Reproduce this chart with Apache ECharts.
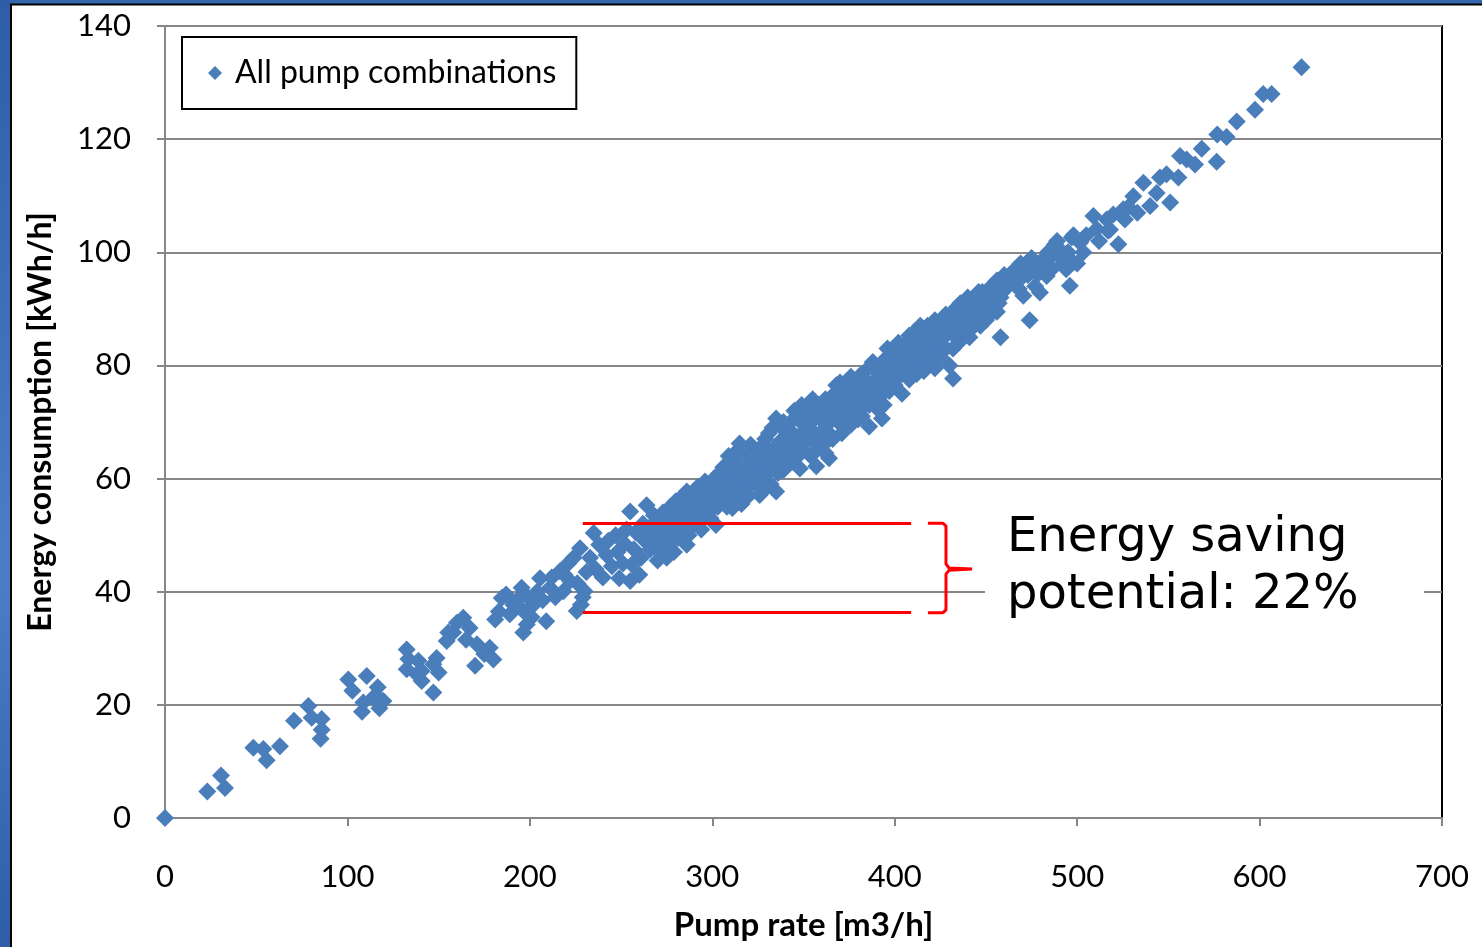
<!DOCTYPE html>
<html><head><meta charset="utf-8">
<script src="https://cdn.jsdelivr.net/npm/echarts@6/dist/echarts.min.js"></script>
<style>html,body{margin:0;padding:0;background:#fff;}#c{width:1482px;height:947px;}</style>
</head><body><div id="c"></div>
<script>
// ---- data ----
const seriesName = 'All pump combinations';
const xTitle = 'Pump rate [m3/h]';
const yTitle = 'Energy consumption [kWh/h]';
const xTickValues = [0, 100, 200, 300, 400, 500, 600, 700];
const yTickValues = [0, 20, 40, 60, 80, 100, 120, 140];

const pointsLow = [[0,0],[23.2,4.7],[30.7,7.5],[32.9,5.3],[48.4,12.4],[53.9,12.2],[55.7,10.2],[63,12.7],[70.7,17.2],[78.6,19.8],[80.4,17.7],[85.9,17.5],[85.9,15.6],[85.3,14.0],[100.5,24.5],[102.7,22.5],[110.6,25.1],[108.7,20.4],[108,18.8],[116.6,23.1],[117.9,21.0],[119.7,20.7],[117.5,19.4],[114.2,21.3],[132.5,29.8],[133.4,28.1],[132.5,26.3],[138.9,27.8],[140.7,26.0],[140.7,24.2],[138,25.4],[148.9,28.3],[147.1,27.2],[150,25.7],[147.1,22.2],[155.3,32.8],[154.4,31.3]];

const pointsMid1 = [[163.5,35.4],[158,32.8],[167,33.6],[171,30.7],[170,26.9],[180,28],[178,30.1],[181,35.1],[184.6,38.9],[195.5,40.7],[191,37.7],[196.4,36.6],[198.3,34.2],[196.4,32.8],[202,37.7],[209,34.8],[205.6,42.4],[211,40.7],[218.4,40.1],[216.5,43.6],[222,41.9],[225.7,36.6],[228,37.7],[230,40.1],[227.5,47.7],[224,46],[160,34.5],[165,31.5],[175,29],[183,36.5],[187,39.5],[189,36],[193,38.5],[199,39],[201,35.5],[204,40],[207,38.5],[212,42.5],[214,39],[219,43],[221,45],[226,41.5],[231,43.5],[229,39]];

const pointsMid2 = [[233,46],[235,50.4],[236,44],[238,48.3],[240,42.5],[242,46.5],[243,49],[245,44.5],[247,50],[248,47],[249,42.4],[251,45],[252,48.5],[253,51],[255,41.9],[255,54.2],[256,44.8],[257,47.5],[258,50.5],[260,43],[261,46],[262,52],[263,49],[264,55.3],[266,47.5],[267,51.8],[268,53.5],[269,49.5],[270,45.5],[271,52.5],[272,50],[273,54],[275,46],[275,52],[276,48.9],[277,55],[278,51],[279,53],[280,56],[281,49.5],[282,52.5],[283,54.5],[284,57],[285,50.5],[286,48.3],[286,57.7],[287,53],[288,55.5],[289,51.5],[290,54],[291,56.5],[292,58.5],[293,52.5],[294,55],[295,57],[296,59.5],[297,58.3],[298,54],[299,56],[300,58],
  [265,50],[268,48],[272,47.5],[274,51],[277,49.5],[279,47],[281,54],[283,51],[285,55.5],[287,50],[289,57],[290,52],[292,55],[294,51],[296,54.5],[298,57.5],[299,53]];

const pointsMid3 = [[301,60],[302,51.8],[303,55],[304,57.5],[305,59.5],[306,62],[307,56],[308,58.5],[309,61],[310,63],[311,54.8],[312,57.5],[313,60],[314,62.5],[315,58.3],[315,66.2],[316,55.5],[317,59],[318,61.5],[319,64],[320,57],[321,60],[322,62.5],[323,65],[324,59],[325,61.5],[326,57.1],[327,63.5],[328,66],[329,60.5],[330,63],[331,68],[332,59],[333,65],[334,62],[335,57.7],[335,70.6],[336,64],[337,66.5],[338,69],[339,61.5],[340,63.5],[340.8,62.7],[341,67],[342,65],[343,70],[344,68],[345,72],[346,71.8],[346,66],[347,64],[348,61.8],[349,68],[350,70],[351,66.5],[352,72],[353,69],[354,64],[355,67.5],[356,70.5],[357,62.2],[358,73],[359,68],[360,71],[361,66],[362,74],[363,69.5],[364,63.6],[365,72],[366,67],[367,75],[368,76.5],[369,70],[370,73],[371,68],[372,75.5],[373,71],[374,77],[375,73.5],[376,69.5],[377,75],[378,72],[379,76.5],[380,74],[381,78.2],[382,71],[383,75.5],[384,73],[385,77],[386,69.2],[387,74],[388,80.6],[389,76],[390,72.5],
  [301,56],[303,58.5],[304,61],[306,58],[308,55],[309,64],[311,59.5],[313,57],[314,65],[316,61],[318,58],[320,62],[321,66],[323,60.5],[325,64],[327,60],[329,67],[330,58.5],[332,64.5],[333,69],[336,61],[338,65.5],[339,70],
  [342,68.5],[344,63],[345,66.5],[347,70.5],[349,73],[350,65],[352,68],[354,71],[355,74],[357,66],[359,72.5],[361,70],[362,64.5],[364,68],[366,73.5],[368,71],[370,77],[372,70],[374,74],[376,78],[378,74.5],[380,70.5],[382,77],[384,79],[386,73],[388,76.5],[390,79]];

const pointsMid4 = [[391,78],[392,74.5],[393,70.6],[394,77],[395,81.2],[396,79],[397,75.5],[398,78],[399,82],[400,76.5],[401,80],[402,78],[403,83],[404,75],[405,81],[406,79],[407,84],[408,85.3],[408,77.5],[409,82],[410,80],[411,86],[412,78.5],[413,83.5],[414,81],[415,85],[416,79],[416.6,81.2],[417,83],[418,87],[419,80.5],[420,84],[421,82],[422,79.5],[423,86.7],[424,84],[425,81.5],[426,88],[427,85],[428,83],[429,87],[430,80],[431,89],[432,77.7],[432,85.5],[433,88],[434,90.3],[435,84],[436,87],[437,89.5],[438,86],[439,91],[440,88],[441,85],[442,90],[443,87.5],[444,92],[445,91.7],[446,89],[447,87],[448,93],[449,90],[450,92],[451,88.5],[452,92.6],[453,94],[454,90],[455,92.3],[456,95],[457,91],[458,85],[459,93],[460,96],
  [392,80],[394,73],[396,83],[398,76],[400,80],[402,84],[404,78.5],[406,82.5],[409,79],[410,84],[412,82],[414,87],[416,84],[418,82],[420,86],[422,88],[424,82],[426,85],[428,89],[430,86],[432,83],[434,87],[436,91],[438,88.5],[440,92],[442,86.5],[444,89],[446,93],[448,90.5],[450,88],[452,91],[454,94],[456,89.5],[458,92],[460,94]];

const pointsHigh = [[461.3,94.1],[465,95.3],[470.5,95.8],[470.5,92.3],[476,97],[479.6,92.9],[481.5,98.8],[483.3,95.8],[487.9,101.4],[490.6,99.4],[496,94.1],[497,102.6],[497.9,98.2],[501.6,101.7],[503.4,100],[508.9,106.4],[510.7,104.1],[516.2,105.8],[516.9,103.8],[519.8,106.7],[522.6,101.4],[525.3,107.6],[526.2,105.8],[530.8,109.9],[536.3,112.3],[540,108.2],[543.6,110.5],[545.4,113.2],[549,113.8],[551,108.8],[555.5,113.2],[556.4,117],[560,116.4],[564.6,115.5],[568.3,118.3],[576.5,116],[576.8,120.8],[581.9,120.4],[587.5,123.1],[597.5,125.2],[602,128],[606.6,128],[623,132.7],[462,94],[466,97],[468,93.5],[472,98],[474,88],[478,96],[485,99],[492,100],[494,97],[500,98],[505,103],[512,102],[518,104],[528,108],[533,107],
  [463,96],[467,95],[469,98],[473,96],[475,99],[477,94],[480,97.5],[484,100],[486,97],[489,102],[492,98],[495,100],[498,103]];

// annotation (data units)
const savingLevels = [52.1, 36.3];
const savingSpan = [229, 409];
const braceX = [418.2, 426.5, 428.1, 428.1, 429.8, 442.4, 429.8, 428.1, 428.1, 426.5, 418.2];
const braceY = [52.1, 52.1, 51.6, 44.9, 44.2, 44.0, 43.8, 43.1, 36.8, 36.3, 36.3];
const annotationText = 'Energy saving\npotential: 22%';

const allPoints = [].concat(pointsLow, pointsMid1, pointsMid2, pointsMid3, pointsMid4, pointsHigh);

const chart = echarts.init(document.getElementById('c'), null, {renderer: 'canvas'});
const gray = '#868686';
const font = 'Lato, "Open Sans", sans-serif';
chart.setOption({
  animation: false,
  backgroundColor: '#fff',
  grid: {left: 165, right: 40, top: 26, bottom: 126, show: true, borderColor: '#000', borderWidth: 2, backgroundColor: '#fff'},
  legend: {
    left: 182, top: 37, orient: 'horizontal',
    data: [{name: seriesName, icon: 'diamond'}],
    itemWidth: 14, itemHeight: 14,
    borderColor: '#000', borderWidth: 2, backgroundColor: '#fff', borderRadius: 0,
    padding: [20, 20, 20, 26],
    textStyle: {fontSize: 32, color: '#000', fontFamily: font, padding: [0, 0, 0, 8]}
  },
  xAxis: {
    type: 'value', min: xTickValues[0], max: xTickValues[xTickValues.length - 1], interval: 100,
    axisLine: {show: true, lineStyle: {color: gray, width: 2}},
    axisTick: {show: true, inside: false, length: 8, lineStyle: {color: gray, width: 2}},
    axisLabel: {fontSize: 31, color: '#000', fontFamily: font, margin: 43},
    splitLine: {show: false},
    name: xTitle, nameLocation: 'middle', nameGap: 91,
    nameTextStyle: {fontSize: 33, fontWeight: 'bold', color: '#000', fontFamily: font}
  },
  yAxis: {
    type: 'value', min: yTickValues[0], max: yTickValues[yTickValues.length - 1], interval: 20,
    axisLine: {show: true, lineStyle: {color: gray, width: 2}},
    axisTick: {show: true, inside: false, length: 8, lineStyle: {color: gray, width: 2}},
    axisLabel: {fontSize: 31, color: '#000', fontFamily: font, margin: 34},
    splitLine: {show: true, lineStyle: {color: gray, width: 2}},
    name: yTitle, nameLocation: 'middle', nameGap: 108,
    nameTextStyle: {fontSize: 32, fontWeight: 'bold', color: '#000', fontFamily: font}
  },
  series: [
    {
      name: seriesName, type: 'scatter', symbol: 'diamond', symbolSize: 18,
      itemStyle: {color: '#4A7EBB', opacity: 1},
      data: allPoints,
      markLine: {
        silent: true, symbol: ['none', 'none'],
        lineStyle: {color: '#FF0000', width: 3, type: 'solid'},
        label: {show: false},
        data: savingLevels.map(v => [{coord: [savingSpan[0], v]}, {coord: [savingSpan[1], v]}])
      },
      z: 3
    },
    {
      name: 'brace', type: 'line', showSymbol: false, silent: true,
      lineStyle: {color: '#FF0000', width: 3},
      data: braceX.map((x, i) => [x, braceY[i]]),
      z: 4
    }
  ],
  graphic: [
    {type: 'rect', z: -10, shape: {x: 0, y: 0, width: 1482, height: 4}, style: {fill: '#3565AE'}},
    {type: 'rect', z: -10, shape: {x: 0, y: 0, width: 10, height: 947}, style: {fill: new echarts.graphic.LinearGradient(0, 0, 0, 1, [{offset: 0, color: '#2F5DA8'}, {offset: 0.6, color: '#4A7FC6'}, {offset: 1, color: '#2F5DA8'}])}},
    {type: 'line', z: -5, shape: {x1: 10, y1: 4.5, x2: 1482, y2: 4.5}, style: {stroke: '#000', lineWidth: 2}},
    {type: 'line', z: -5, shape: {x1: 11, y1: 4, x2: 11, y2: 947}, style: {stroke: '#000', lineWidth: 2}},
    {type: 'rect', z: 50, shape: {x: 985, y: 507, width: 439, height: 126}, style: {fill: '#fff'}},
    {type: 'text', z: 51, left: 1007, top: 510, style: {text: annotationText, font: '48px "DejaVu Sans"', fill: '#000', lineHeight: 57}}
  ]
});
</script></body></html>
